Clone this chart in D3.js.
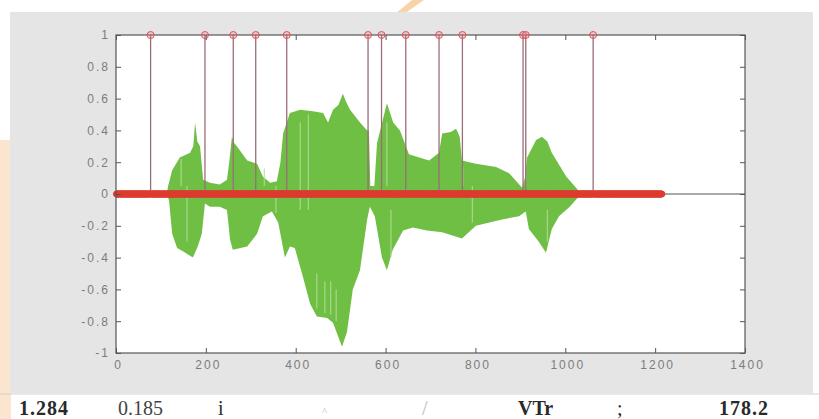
<!DOCTYPE html>
<html>
	<head>
		<title>Onset detection - stem plot over waveform</title>
		<meta charset="utf-8" />
		<script src="https://d3js.org/d3.v7.min.js"></script>
		<style>
			body {
				margin: 0;
				background: #ffffff;
			}
			svg {
				display: block;
			}
			.tick text {
				font-family: "Liberation Sans", Arial, sans-serif;
				font-size: 12px;
				letter-spacing: 2px;
				fill: #7c7c7c;
			}
			.bottomrow {
				font-family: "Liberation Serif", "Times New Roman", serif;
				font-size: 20px;
				fill: #222;
			}
		</style>
	</head>
	<body>
		<div id="holder"></div>
		<script>
			//Data
			const xTicks = [0, 200, 400, 600, 800, 1000, 1200, 1400];
			const yTicks = [-1, -0.8, -0.6, -0.4, -0.2, 0, 0.2, 0.4, 0.6, 0.8, 1];

			//frames where the detector fired (value 1), every other frame is 0
			const onsetFrames = [77, 198, 261, 311, 380, 561, 591, 645, 719, 771, 906, 912, 1062];
			const nFrames = 1215;

			//waveform envelope, upper side
			const upperX = [113, 116, 125, 142, 165, 172, 176, 181, 187, 194, 209, 231, 247, 252, 258, 263, 269, 292, 314, 327, 343, 358, 366, 372, 387, 410, 438, 461, 472, 483, 495, 505, 512, 521, 543, 559, 563, 566, 575, 581, 603, 617, 632, 652, 675, 697, 719, 726, 745, 757, 765, 770, 801, 846, 875, 904, 910, 915, 935, 948, 960, 970, 1002, 1024, 1035];
			const upperY = [0, 0.05, 0.15, 0.23, 0.26, 0.3, 0.45, 0.33, 0.30, 0.09, 0.07, 0.06, 0.09, 0.2, 0.36, 0.32, 0.30, 0.21, 0.19, 0.11, 0.07, 0.08, 0.2, 0.38, 0.51, 0.53, 0.52, 0.51, 0.45, 0.53, 0.56, 0.63, 0.58, 0.53, 0.45, 0.40, 0.40, 0.05, 0.05, 0.32, 0.57, 0.45, 0.40, 0.25, 0.23, 0.21, 0.26, 0.38, 0.39, 0.41, 0.36, 0.21, 0.19, 0.17, 0.13, 0.04, 0.1, 0.23, 0.34, 0.36, 0.33, 0.26, 0.11, 0.04, 0];

			//waveform envelope, lower side
			const lowerX = [113, 118, 125, 136, 149, 171, 182, 191, 198, 209, 231, 247, 254, 260, 292, 314, 327, 347, 361, 376, 387, 398, 416, 432, 447, 470, 483, 503, 514, 527, 543, 559, 565, 576, 592, 603, 616, 639, 661, 692, 726, 770, 801, 859, 897, 912, 919, 941, 957, 970, 986, 1010, 1035];
			const lowerY = [0, -0.04, -0.25, -0.34, -0.36, -0.40, -0.33, -0.25, -0.06, -0.08, -0.08, -0.10, -0.29, -0.35, -0.33, -0.25, -0.14, -0.11, -0.18, -0.40, -0.33, -0.34, -0.52, -0.69, -0.77, -0.78, -0.81, -0.96, -0.87, -0.60, -0.48, -0.16, -0.08, -0.14, -0.40, -0.48, -0.35, -0.23, -0.21, -0.23, -0.24, -0.28, -0.20, -0.16, -0.14, -0.11, -0.22, -0.30, -0.37, -0.22, -0.14, -0.08, 0];

			//light streaks inside the waveform: x, from, to
			const streakX = [145, 158, 330, 356, 410, 428, 447, 465, 478, 490, 603, 612, 772, 793, 912, 960];
			const streakFrom = [0.05, 0.05, 0.05, 0.05, -0.1, -0.1, -0.5, -0.55, -0.55, -0.6, 0.05, -0.1, 0.05, 0.05, 0.05, -0.1];
			const streakTo = [0.22, -0.3, 0.16, -0.12, 0.45, 0.5, -0.72, -0.75, -0.76, -0.8, 0.45, -0.4, 0.17, -0.18, 0.3, -0.3];

			//text row under the figure
			const rowTexts = ["1.284", "0.185", "i", "^", "/", "VTr", ";", "178.2"];
			const rowXs = [19, 118, 218, 322, 422, 518, 617, 719];

			//Variables
			const w = 819;
			const h = 419;
			const plot = {left: 116, right: 745, top: 35, bottom: 353};

			const svg = d3.select("#holder")
				.append("svg")
				.attr("width", w)
				.attr("height", h);

			//watermark bits around the grey figure
			svg.append("rect").attr("x", 0).attr("y", 140).attr("width", 11).attr("height", 279).attr("fill", "#fbe5cf");
			svg.append("path")
				.attr("d", "M395,14 L412,0 L424,0 L404,14 Z")
				.attr("fill", "#f7d3a8");

			//grey figure background
			svg.append("rect")
				.attr("x", 10).attr("y", 12)
				.attr("width", 803).attr("height", 381)
				.attr("fill", "#e5e5e5");
			svg.append("line")
				.attr("x1", 0).attr("x2", w)
				.attr("y1", 394).attr("y2", 394)
				.attr("stroke", "#cfcfcf");

			//axes area
			svg.append("rect")
				.attr("x", plot.left).attr("y", plot.top)
				.attr("width", plot.right - plot.left).attr("height", plot.bottom - plot.top)
				.attr("fill", "#ffffff");

			let xScale = d3.scaleLinear()
				.domain([0, 1400])
				.range([plot.left, plot.right]);

			let yScale = d3.scaleLinear()
				.domain([-1, 1])
				.range([plot.bottom, plot.top]);

			//Waveform
			const upper = upperX.map((x, i) => [x, upperY[i]]);
			const lower = lowerX.map((x, i) => [x, lowerY[i]]);
			const area = d3.area()
				.x(d => xScale(d[0]))
				.y0(yScale(0))
				.y1(d => yScale(d[1]));

			svg.append("path").datum(upper).attr("d", area).attr("fill", "#6fbf45");
			svg.append("path").datum(lower).attr("d", area).attr("fill", "#6fbf45");

			svg.selectAll("line.streak")
				.data(streakX)
				.enter()
				.append("line")
				.attr("class", "streak")
				.attr("x1", d => xScale(d)).attr("x2", d => xScale(d))
				.attr("y1", (d, i) => yScale(streakFrom[i]))
				.attr("y2", (d, i) => yScale(streakTo[i]))
				.attr("stroke", "#b4dc98")
				.attr("stroke-width", 1);

			//Stem data
			const onsetSet = new Set(onsetFrames);
			const frames = d3.range(1, nFrames + 1).map(f => ({f: f, v: onsetSet.has(f) ? 1 : 0}));

			//baseline
			svg.append("line")
				.attr("x1", xScale(0)).attr("x2", xScale(1400))
				.attr("y1", yScale(0)).attr("y2", yScale(0))
				.attr("stroke", "#555")
				.attr("stroke-width", 1);

			//stems
			svg.selectAll("line.stem")
				.data(frames.filter(d => d.v > 0))
				.enter()
				.append("line")
				.attr("class", "stem")
				.attr("x1", d => xScale(d.f)).attr("x2", d => xScale(d.f))
				.attr("y1", yScale(0)).attr("y2", d => yScale(d.v))
				.attr("stroke", "#9a6e76")
				.attr("stroke-width", 1.3);

			//markers on zero
			svg.append("g")
				.selectAll("circle")
				.data(frames.filter(d => d.v == 0))
				.enter()
				.append("circle")
				.attr("cx", d => xScale(d.f))
				.attr("cy", d => yScale(d.v))
				.attr("r", 3)
				.attr("fill", "none")
				.attr("stroke", "#de3a2e")
				.attr("stroke-width", 1);

			//Axes box and ticks (matlab style, ticks inside)
			const tickLen = 5;
			svg.append("g")
				.attr("transform", "translate(2," + plot.bottom + ")")
				.call(d3.axisBottom(xScale).tickValues(xTicks).tickSize(-tickLen).tickPadding(7).tickFormat(d3.format("d")))
				.call(g => g.select(".domain").remove())
				.call(g => g.selectAll(".tick line").attr("transform", "translate(-2,0)"));
			svg.append("g")
				.attr("transform", "translate(0," + plot.top + ")")
				.call(d3.axisTop(xScale).tickValues(xTicks).tickSize(-tickLen).tickFormat(""))
				.call(g => g.select(".domain").remove());
			svg.append("g")
				.attr("transform", "translate(" + plot.left + ",0)")
				.call(d3.axisLeft(yScale).tickValues(yTicks).tickSize(-tickLen).tickPadding(6).tickFormat(d => String(+d.toFixed(1))))
				.call(g => g.select(".domain").remove());
			svg.append("g")
				.attr("transform", "translate(" + plot.right + ",0)")
				.call(d3.axisRight(yScale).tickValues(yTicks).tickSize(-tickLen).tickFormat(""))
				.call(g => g.select(".domain").remove());
			svg.selectAll(".tick line").attr("stroke", "#555");

			svg.append("rect")
				.attr("x", plot.left).attr("y", plot.top)
				.attr("width", plot.right - plot.left).attr("height", plot.bottom - plot.top)
				.attr("fill", "none")
				.attr("stroke", "#555")
				.attr("stroke-width", 1.2);

			//onset markers at 1 (drawn over the top border)
			svg.append("g")
				.selectAll("circle")
				.data(frames.filter(d => d.v > 0))
				.enter()
				.append("circle")
				.attr("cx", d => xScale(d.f))
				.attr("cy", d => yScale(d.v))
				.attr("r", 3.5)
				.attr("fill", "rgba(240,120,130,0.25)")
				.attr("stroke", "#e2505a")
				.attr("stroke-width", 1);

			//text row
			svg.selectAll("text.bottomrow")
				.data(rowTexts)
				.enter()
				.append("text")
				.attr("class", "bottomrow")
				.attr("x", (d, i) => rowXs[i])
				.attr("y", 415)
				.style("font-weight", (d, i) => (i == 0 || i == 5 || i == 7) ? "bold" : "normal")
				.style("fill", (d, i) => (i == 3 || i == 4) ? "#bbb" : (i == 1 ? "#444" : "#2a2a2a"))
				.style("font-size", (d, i) => (i == 3) ? "11px" : "20px")
				.style("letter-spacing", (d, i) => (i == 0 || i == 7) ? "1px" : "0px")
				.text(d => d);
		</script>
	</body>
</html>
